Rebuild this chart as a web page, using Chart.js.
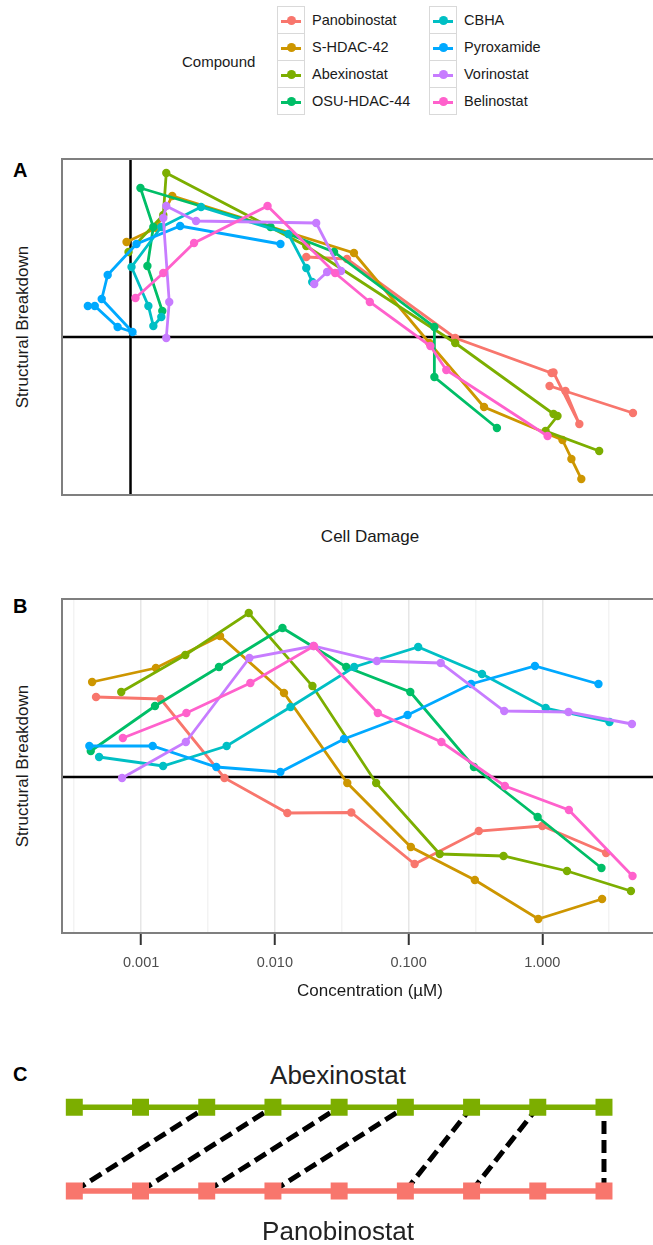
<!DOCTYPE html>
<html>
<head>
<meta charset="utf-8">
<script src="https://cdn.jsdelivr.net/npm/chart.js@4.4.1/dist/chart.umd.min.js"></script>
<style>
html, body { margin: 0; padding: 0; width: 653px; height: 1245px; overflow: hidden; background: #fff;
  font-family: "Liberation Sans", Arial, sans-serif; color: #1a1a1a; }
.abs { position: absolute; white-space: nowrap; line-height: 1; }
.mid { transform: translate(-50%, -50%); }
.vmid { transform: translateY(-50%); }
.tag { font-weight: bold; font-size: 20px; color: #000; left: 13px; }
.ttl { font-size: 17px; }
.ytl { font-size: 17px; transform: translate(-50%, -50%) rotate(-90deg); }
.big { font-size: 26px; color: #222; }
canvas { position: absolute; left: 0; }
.key { position: absolute; width: 28px; height: 28px; border: 1px solid #d9d9d9; box-sizing: border-box; background: #fff; }
.key .ln { position: absolute; left: 3px; right: 3px; top: 12.5px; height: 3px; }
.key .dt { position: absolute; left: 9px; top: 9px; width: 9px; height: 9px; border-radius: 50%; }
.lab { font-size: 14.5px; }
</style>
</head>
<body>

<div class="abs vmid" style="left:182px; top:61px; font-size:15px;">Compound</div>
<div id="legend"></div>

<div class="abs tag" style="top:160px;">A</div>
<div class="abs ytl" style="left:22px; top:327px;">Structural Breakdown</div>
<canvas id="damageChart" width="660" height="350" style="top:150px;"></canvas>
<div class="abs mid ttl" style="left:370px; top:536px;">Cell Damage</div>

<div class="abs tag" style="top:596px;">B</div>
<div class="abs ytl" style="left:22px; top:766px;">Structural Breakdown</div>
<canvas id="doseChart" width="660" height="420" style="top:590px;"></canvas>
<div class="abs mid ttl" style="left:370px; top:990px;">Concentration (µM)</div>

<div class="abs tag" style="top:1064px;">C</div>
<div class="abs mid big" style="left:338px; top:1075px;">Abexinostat</div>
<canvas id="dtwChart" width="653" height="205" style="top:1040px;"></canvas>
<div class="abs mid big" style="left:338px; top:1231px;">Panobinostat</div>

<script>
// ── DATA ──
const compounds = ['Panobinostat', 'S-HDAC-42', 'Abexinostat', 'OSU-HDAC-44', 'CBHA', 'Pyroxamide', 'Vorinostat', 'Belinostat'];
const colors = ['#F8766D', '#CD9600', '#7CAE00', '#00BE67', '#00BFC4', '#00A9FF', '#C77CFF', '#FF61CC'];

// concentration (µM) per compound
const dosePanobinostat = [0.00046, 0.0014, 0.0042, 0.0124, 0.0373, 0.111, 0.335, 1.0, 3.0];
const doseSHDAC42      = [0.00043, 0.00129, 0.00389, 0.0117, 0.0348, 0.104, 0.313, 0.933, 2.80];
const doseAbexinostat  = [0.00071, 0.00214, 0.00638, 0.0191, 0.0572, 0.171, 0.513, 1.53, 4.60];
const doseOSUHDAC44    = [0.00042, 0.00127, 0.00382, 0.0114, 0.0342, 0.103, 0.308, 0.923, 2.77];
const doseCBHA         = [0.000485, 0.00146, 0.00436, 0.0131, 0.0392, 0.118, 0.354, 1.06, 3.18];
const dosePyroxamide   = [0.00041, 0.00122, 0.00365, 0.0110, 0.0329, 0.0983, 0.294, 0.881, 2.63];
const doseVorinostat   = [0.00072, 0.00216, 0.00645, 0.0194, 0.0579, 0.174, 0.519, 1.57, 4.68];
const doseBelinostat   = [0.00073, 0.00218, 0.00656, 0.0196, 0.0589, 0.176, 0.525, 1.58, 4.73];

// structural breakdown (shared by panels A and B)
const breakPanobinostat = [0.80, 0.78, -0.01, -0.36, -0.355, -0.87, -0.54, -0.49, -0.76];
const breakSHDAC42      = [0.95, 1.09, 1.41, 0.84, -0.06, -0.70, -1.03, -1.42, -1.22];
const breakAbexinostat  = [0.85, 1.22, 1.64, 0.91, -0.06, -0.77, -0.79, -0.94, -1.14];
const breakOSUHDAC44    = [0.26, 0.71, 1.10, 1.49, 1.10, 0.85, 0.10, -0.40, -0.91];
const breakCBHA         = [0.20, 0.11, 0.31, 0.70, 1.10, 1.30, 1.03, 0.69, 0.55];
const breakPyroxamide   = [0.31, 0.31, 0.10, 0.05, 0.38, 0.62, 0.93, 1.11, 0.93];
const breakVorinostat   = [-0.01, 0.35, 1.19, 1.31, 1.16, 1.14, 0.66, 0.65, 0.53];
const breakBelinostat   = [0.39, 0.64, 0.94, 1.31, 0.64, 0.35, -0.09, -0.33, -0.99];

// cell damage (panel A x)
const damagePanobinostat = [1.77, 2.18, 3.27, 4.24, 4.26, 4.52, 4.38, 4.22, 5.06];
const damageSHDAC42      = [-0.04, 0.26, 0.42, 2.25, 3.01, 3.56, 4.35, 4.54, 4.44];
const damageAbexinostat  = [-0.02, 0.33, 0.36, 1.77, 3.27, 4.26, 4.30, 4.18, 4.72];
const damageOSUHDAC44    = [0.32, 0.17, 0.23, 0.10, 1.41, 2.05, 3.06, 3.06, 3.69];
const damageCBHA         = [0.31, 0.23, 0.18, 0.01, 0.31, 0.71, 1.59, 1.77, 1.83];
const damagePyroxamide   = [-0.43, -0.36, -0.13, 0.02, -0.29, -0.23, 0.06, 0.50, 1.51];
const damageVorinostat   = [0.36, 0.39, 0.33, 0.36, 0.66, 1.87, 2.12, 1.98, 1.85];
const damageBelinostat   = [0.05, 0.33, 0.64, 1.38, 2.06, 2.41, 3.02, 3.18, 4.20];

// panel B x ticks (minor ones unlabeled)
const doseTicks = [0.000316, 0.001, 0.00316, 0.01, 0.0316, 0.1, 0.316, 1, 3.16];
const doseTickLabels = ['', '0.001', '', '0.010', '', '0.100', '', '1.000', ''];

// panel C: warping path between Abexinostat and Panobinostat
const dtwIndex = [1, 2, 3, 4, 5, 6, 7, 8, 9];
const dtwPanobinostat = [1, 2, 3, 4, 6, 7, 9];
const dtwAbexinostat  = [3, 4, 5, 6, 7, 8, 9];

const doses = [dosePanobinostat, doseSHDAC42, doseAbexinostat, doseOSUHDAC44, doseCBHA, dosePyroxamide, doseVorinostat, doseBelinostat];
const breaks = [breakPanobinostat, breakSHDAC42, breakAbexinostat, breakOSUHDAC44, breakCBHA, breakPyroxamide, breakVorinostat, breakBelinostat];
const damages = [damagePanobinostat, damageSHDAC42, damageAbexinostat, damageOSUHDAC44, damageCBHA, damagePyroxamide, damageVorinostat, damageBelinostat];

const FONT = 'Liberation Sans, Arial, sans-serif';

// ── LEGEND ──
const legendEl = document.getElementById('legend');
compounds.forEach((name, i) => {
    const col = Math.floor(i / 4), row = i % 4;
    const left = col ? 429 : 277;
    const top = 6 + row * 27;
    legendEl.insertAdjacentHTML('beforeend',
        `<div class="key" style="left:${left}px; top:${top}px;">
           <div class="ln" style="background:${colors[i]}"></div>
           <div class="dt" style="background:${colors[i]}"></div>
         </div>
         <div class="abs vmid lab" style="left:${left + 35}px; top:${top + 14}px;">${name}</div>`);
});

// ── PANEL BOX + ZERO LINES ──
const panelBox = {
    id: 'panelBox',
    beforeDatasetsDraw(chart, args, opts) {
        if (!opts.box) return;
        const { ctx, chartArea: a, scales } = chart;
        ctx.save();
        ctx.strokeStyle = '#000';
        ctx.lineWidth = 2.5;
        if (opts.zeroX) {
            const x = scales.x.getPixelForValue(0);
            ctx.beginPath(); ctx.moveTo(x, a.top); ctx.lineTo(x, a.bottom); ctx.stroke();
        }
        if (opts.zeroY) {
            const y = scales.y.getPixelForValue(0);
            ctx.beginPath(); ctx.moveTo(a.left, y); ctx.lineTo(a.right, y); ctx.stroke();
        }
        ctx.strokeStyle = '#7f7f7f';
        ctx.lineWidth = 2;
        ctx.strokeRect(a.left, a.top, a.width, a.height);
        ctx.restore();
    }
};

function seriesSets(xs) {
    return compounds.map((name, i) => ({
        label: name,
        data: xs[i].map((x, j) => ({ x: x, y: breaks[i][j] })),
        borderColor: colors[i],
        backgroundColor: colors[i],
        borderWidth: 2.8,
        pointRadius: 4.2,
        pointBorderWidth: 0,
        showLine: true,
        order: compounds.length - 1 - i
    }));
}

const common = {
    responsive: false,
    animation: false,
    plugins: { legend: { display: false }, tooltip: { enabled: false } }
};

// ── PANEL A ──
new Chart(document.getElementById('damageChart'), {
    type: 'scatter',
    data: { datasets: seriesSets(damages) },
    plugins: [panelBox],
    options: {
        ...common,
        layout: { padding: { left: 62, top: 9, right: 0, bottom: 5 } },
        plugins: { ...common.plugins, panelBox: { box: true, zeroX: true, zeroY: true } },
        scales: {
            x: { type: 'linear', display: false, min: -0.69, max: 5.29 },
            y: { type: 'linear', display: false, min: -1.58, max: 1.78 }
        }
    }
});

// ── PANEL B ──
new Chart(document.getElementById('doseChart'), {
    type: 'scatter',
    data: { datasets: seriesSets(doses) },
    plugins: [panelBox],
    options: {
        ...common,
        layout: { padding: { left: 62, top: 9, right: 0, bottom: 0 } },
        plugins: { ...common.plugins, panelBox: { box: true, zeroY: true } },
        scales: {
            x: {
                type: 'logarithmic',
                bounds: 'data',
                min: 0.000256, max: 7.06,
                afterBuildTicks: s => { s.ticks = doseTicks.map(v => ({ value: v })); },
                afterFit: s => { s.height = 77; },
                border: { display: false },
                grid: {
                    color: c => doseTickLabels[c.index] ? '#e6e6e6' : '#f3f3f3',
                    lineWidth: 1.5,
                    drawTicks: true,
                    tickLength: 12,
                    tickWidth: 2,
                    tickColor: c => doseTickLabels[c.index] ? '#333' : 'rgba(0,0,0,0)'
                },
                ticks: {
                    autoSkip: false,
                    maxRotation: 0,
                    padding: 9,
                    color: '#4d4d4d',
                    font: { family: FONT, size: 14.5 },
                    callback: (v, i) => doseTickLabels[i]
                }
            },
            y: { type: 'linear', display: false, min: -1.56, max: 1.78 }
        }
    }
});

// ── PANEL C ──
const dtwSets = [
    {
        data: dtwIndex.map(x => ({ x: x, y: 1 })),
        borderColor: colors[2], backgroundColor: colors[2],
        borderWidth: 5.5, pointStyle: 'rect', pointRadius: 12, pointBorderWidth: 0,
        showLine: true, order: 1
    },
    {
        data: dtwIndex.map(x => ({ x: x, y: 0 })),
        borderColor: colors[0], backgroundColor: colors[0],
        borderWidth: 5.5, pointStyle: 'rect', pointRadius: 12, pointBorderWidth: 0,
        showLine: true, order: 1
    }
];
dtwPanobinostat.forEach((p, k) => {
    dtwSets.push({
        data: [{ x: p, y: 0 }, { x: dtwAbexinostat[k], y: 1 }],
        borderColor: '#000',
        borderWidth: 5,
        borderDash: [13, 6],
        pointRadius: 0,
        showLine: true,
        order: 2
    });
});

new Chart(document.getElementById('dtwChart'), {
    type: 'scatter',
    data: { datasets: dtwSets },
    options: {
        ...common,
        layout: { padding: { left: 41.2, top: 25.3, right: 15.9, bottom: 3.7 } },
        scales: {
            x: { type: 'linear', display: false, min: 0.5, max: 9.5 },
            y: { type: 'linear', display: false, min: -0.5, max: 1.5 }
        }
    }
});
</script>
</body>
</html>
